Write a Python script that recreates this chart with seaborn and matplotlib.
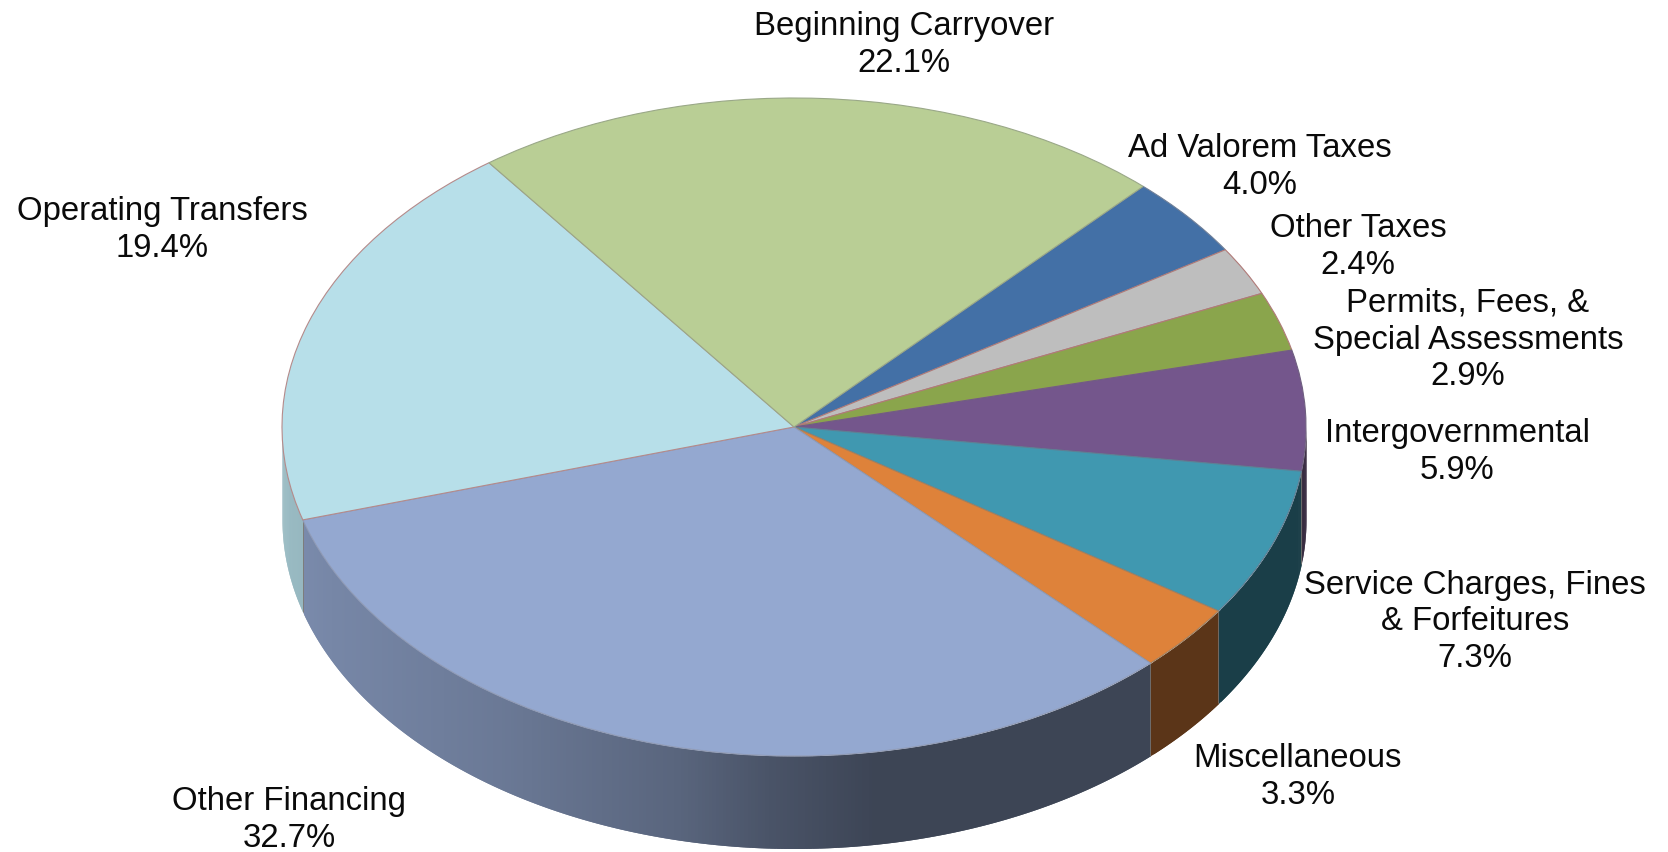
import numpy as np
import matplotlib
matplotlib.use("Agg")
import matplotlib.pyplot as plt
import seaborn as sns

# slices, clockwise from the top right
categories = ["Ad Valorem Taxes", "Other Taxes", "Permits, Fees, &\nSpecial Assessments",
              "Intergovernmental", "Service Charges, Fines\n& Forfeitures", "Miscellaneous",
              "Other Financing", "Operating Transfers", "Beginning Carryover"]
values = [4.0, 2.4, 2.9, 5.9, 7.3, 3.3, 32.7, 19.4, 22.1]

colors = ["#4370A6", "#BEBEBE", "#8AA54C", "#74568C", "#4098B0",
          "#DE823A", "#94A8D0", "#B7DFE9", "#B9CE95"]
edge_colors = ["#6f7f98", "#b07a78", "#b07a78", "#6f5f80", "#5f7f95",
               "#a08060", "#8f9ab5", "#b58a8a", "#9aa888"]

# label centres in pixels
label_pos = [(1260, 167), (1358, 247), (1468, 340), (1457, 452), (1475, 622),
             (1298, 777), (289, 820), (162, 230), (904, 45)]

W, H = 1668, 853
cx, cy, rx, ry = 794, 428, 512, 329
depth = 92.5 / ry
start = 47

# how dark the side wall gets, left to right across the pie
shade_x = [-1.0, -0.9, -0.57, -0.22, -0.05, 0.16, 1.0]
shade_f = [0.84, 0.80, 0.72, 0.60, 0.50, 0.41, 0.41]

sns.set_theme(style="white")
plt.rcParams["font.family"] = ["Liberation Sans", "DejaVu Sans"]

fig = plt.figure(figsize=(W / 100, H / 100), dpi=100)
ax = fig.add_axes([0, 0, 1, 1])

palette = sns.color_palette(colors)
wedges, _ = ax.pie(values, colors=palette, startangle=start, counterclock=False,
                   radius=1, wedgeprops={"linewidth": 0.8}, normalize=True)
for w, ec in zip(wedges, edge_colors):
    w.set_edgecolor(ec)
    w.set_zorder(5)

# side wall as thin strips under the top of the pie
# each strip runs over the next one so no seams show
ends = start - np.cumsum(values) * 3.6
begins = np.concatenate([[start], ends[:-1]])
for a0, a1, c in zip(begins, ends, palette):
    a = np.clip(np.arange(a1, a0 + 0.4, 0.4), a1, a0)
    a = np.deg2rad(a)
    a = a[np.sin(a) <= 0.01]
    for i in range(len(a) - 1):
        t = a[i:i + 3]
        x = np.cos(t)
        y = np.minimum(np.sin(t), 0)
        order = np.argsort(x)
        f = np.interp(x.mean(), shade_x, shade_f)
        wall = tuple(np.array(c) * f)
        ax.fill_between(x[order], y[order], y[order] - depth, color=wall, linewidth=0, zorder=2)
    if np.sin(np.deg2rad(a0)) < 0:
        xb, yb = np.cos(np.deg2rad(a0)), np.sin(np.deg2rad(a0))
        ax.vlines(xb, yb - depth, yb, color="#77736f", linewidth=0.6, zorder=3)

ax.set_aspect("auto")
ax.set_xlim(-cx / rx, (W - cx) / rx)
ax.set_ylim((cy - H) / ry, cy / ry)
ax.axis("off")

for name, v, (px, py) in zip(categories, values, label_pos):
    fig.text(px / W, 1 - py / H, f"{name}\n{v:.1f}%", ha="center", va="center",
             fontsize=23.7, color="#0a0a0a", linespacing=1.24)

fig.savefig("out.png", dpi=100, facecolor="white")
